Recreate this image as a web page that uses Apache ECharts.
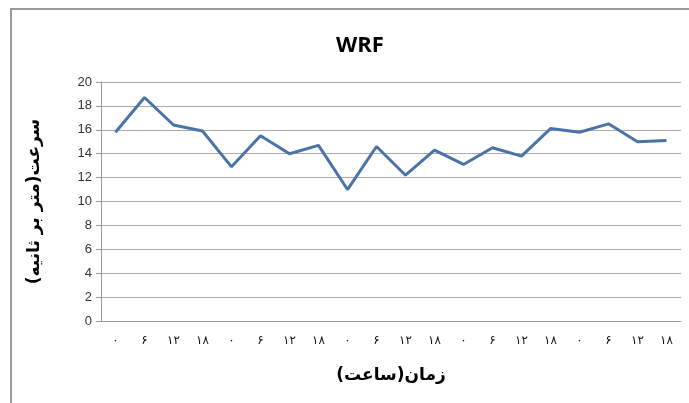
<!DOCTYPE html>
<html>
<head>
<meta charset="utf-8">
<script src="https://cdn.jsdelivr.net/npm/echarts@6/dist/echarts.min.js"></script>
<style>
  html, body { margin: 0; padding: 0; background: #fff; }
  #chart { width: 689px; height: 403px; }
</style>
</head>
<body>
<div id="chart"></div>
<script>
  // hours, Persian digits, 5 days x 4 runs
  var hours = ['۰', '۶', '۱۲', '۱۸',
    '۰', '۶', '۱۲', '۱۸',
    '۰', '۶', '۱۲', '۱۸',
    '۰', '۶', '۱۲', '۱۸',
    '۰', '۶', '۱۲', '۱۸']
  var speed = [15.8, 18.7, 16.4, 15.9, 12.9, 15.5, 14.0, 14.7, 11.0, 14.6,
    12.2, 14.3, 13.1, 14.5, 13.8, 16.1, 15.8, 16.5, 15.0, 15.1]

  var chart = echarts.init(document.getElementById('chart'))
  chart.setOption({
    animation: false,
    title: {
      text: 'WRF',
      left: 355,
      top: 30,
      textAlign: 'center',
      textStyle: {
        fontFamily: 'Open Sans',
        fontWeight: 'bold',
        fontSize: 22,
        color: '#000'
      }
    },
    graphic: [
      {
        type: 'rect',
        shape: { x: 11, y: 9, width: 700, height: 420 },
        style: { fill: 'none', stroke: '#999', lineWidth: 2 }
      }
    ],
    grid: {
      left: 101,
      right: 8,
      top: 82,
      bottom: 82
    },
    xAxis: {
      type: 'category',
      data: hours,
      boundaryGap: true,
      name: 'زمان(ساعت)',
      nameLocation: 'middle',
      nameGap: 46,
      nameTextStyle: {
        fontFamily: 'DejaVu Sans',
        fontWeight: 'bold',
        fontSize: 17,
        color: '#000'
      },
      axisLine: { lineStyle: { color: '#999', width: 1 } },
      axisTick: { show: false },
      axisLabel: {
        margin: 14,
        fontFamily: 'DejaVu Sans',
        fontSize: 12,
        color: '#111'
      }
    },
    yAxis: {
      type: 'value',
      min: 0,
      max: 20,
      interval: 2,
      name: 'سرعت(متر بر ثانیه)',
      nameLocation: 'middle',
      nameRotate: 90,
      nameGap: 58,
      nameTextStyle: {
        fontFamily: 'DejaVu Sans',
        fontWeight: 'bold',
        fontSize: 17,
        color: '#000'
      },
      axisLine: { show: true, lineStyle: { color: '#999', width: 1 } },
      axisTick: { show: true, length: 5, lineStyle: { color: '#999' } },
      axisLabel: {
        margin: 9,
        fontFamily: 'Liberation Sans',
        fontSize: 13,
        color: '#333'
      },
      splitLine: { lineStyle: { color: '#aaa', width: 1 } }
    },
    series: [
      {
        type: 'line',
        data: speed,
        symbol: 'none',
        lineStyle: { color: '#4a74a8', width: 3 }
      }
    ]
  })
</script>
</body>
</html>
